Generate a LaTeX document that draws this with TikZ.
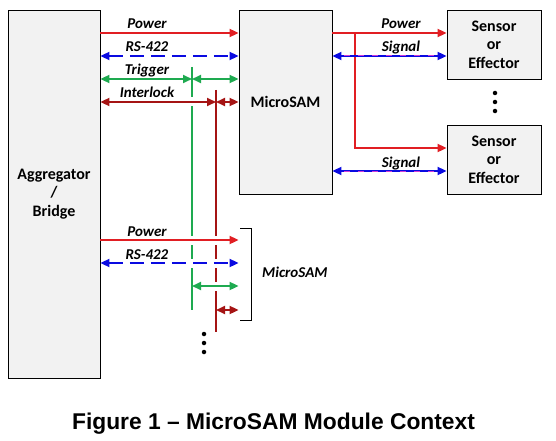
\documentclass[tikz,border=0pt]{standalone}
\usepackage{fontspec}
\setmainfont{Carlito}
\newfontfamily\capfont{Liberation Sans}
\usetikzlibrary{arrows.meta}
\definecolor{pwr}{RGB}{225,30,35}
\definecolor{rs}{RGB}{10,10,225}
\definecolor{trg}{RGB}{30,170,80}
\definecolor{ilk}{RGB}{165,20,20}
\definecolor{sig}{RGB}{205,60,215}
\definecolor{boxfill}{RGB}{242,242,242}
\begin{document}
\begin{tikzpicture}[x=1pt,y=-1pt,
  box/.style={draw=black, line width=0.9pt, fill=boxfill, align=center, inner sep=0pt,
    font=\fontsize{16}{18.5}\selectfont\bfseries},
  lbl/.style={font=\fontsize{15}{18}\selectfont\bfseries\itshape, inner sep=0pt, anchor=base},
  tipA/.style={-{Triangle[length=9pt,width=8pt]}},
  tipB/.style={{Triangle[length=9pt,width=8pt]}-{Triangle[length=9pt,width=8pt]}},
  ln/.style={line width=2pt},
  gap/.style={draw=white, line width=9pt},
  dot/.style={fill=black, draw=none, circle, inner sep=0pt, minimum size=4.5pt}]
\useasboundingbox (0,0) rectangle (556,441);
\fill[white] (0,0) rectangle (556,441);

% boxes
\node[box, minimum width=92, minimum height=368] (agg) at (54,194) {Aggregator\\/\\Bridge};
\node[box, minimum width=93, minimum height=184] (micro) at (285.5,102) {MicroSAM};
\node[box, minimum width=94, minimum height=69] (s1) at (494,44.5) {Sensor\\or\\Effector};
\node[box, minimum width=94, minimum height=69] (s2) at (494,159.5) {Sensor\\or\\Effector};

% helper coordinates
\coordinate (yP) at (0,33);
\coordinate (yR) at (0,56);
\coordinate (tj) at (192,79);
\coordinate (ij) at (216,102);
\coordinate (gtop) at (192,67);
\coordinate (gbot) at (192,310);
\coordinate (itop) at (216,90);
\coordinate (ibot) at (216,332);
\coordinate (yP2) at (0,240);
\coordinate (yR2) at (0,263);
\coordinate (ga) at (192,286);
\coordinate (ia) at (216,310);
\coordinate (br) at (355,33);
\coordinate (bc) at (355,148);
\coordinate (yS2) at (0,171);

% vertical buses
\draw[ln, trg] (gtop) -- (gbot);
\draw[ln, ilk] (itop) -- (ibot);

% top-left connections
\draw[ln, pwr, tipA] (agg.east |- yP) -- (micro.west |- yP);
\draw[ln, rs, tipB, dash pattern=on 14pt off 7pt] (agg.east |- yR) -- (micro.west |- yR);
\draw[ln, trg, tipB] (agg.east |- tj) -- (tj);
\draw[ln, trg, tipB] (tj) -- (micro.west |- tj);
\draw[gap] (184,102) -- (200,102);
\draw[ln, ilk, tipB] (agg.east |- ij) -- (ij);
\draw[ln, ilk, tipB] (ij) -- (micro.west |- ij);

% bottom-left connections
\draw[gap] (186,240) -- (222,240);
\draw[ln, pwr, tipA] (agg.east |- yP2) -- (micro.west |- yP2);
\draw[gap] (186,263) -- (222,263);
\draw[ln, rs, tipB, dash pattern=on 14pt off 7pt] (agg.east |- yR2) -- (micro.west |- yR2);
\draw[gap] (210,286) -- (222,286);
\draw[ln, trg, tipB] (ga) -- (micro.west |- ga);
\draw[ln, ilk, tipB] (ia) -- (micro.west |- ia);

% right side
\draw[ln, pwr, tipA] (micro.east |- yP) -- (s1.west |- yP);
\draw[ln, pwr, tipA] (br) -- (bc) -- (s2.west |- bc);
\draw[ln, rs, tipB] (micro.east |- yR) -- (s1.west |- yR);
\draw[line width=1pt, sig, dash pattern=on 6pt off 8pt] ([xshift=12pt]micro.east |- yR) -- ([xshift=-12pt]s1.west |- yR);
\draw[ln, rs, tipB] (micro.east |- yS2) -- (s2.west |- yS2);
\draw[line width=1pt, sig, dash pattern=on 6pt off 8pt] ([xshift=12pt]micro.east |- yS2) -- ([xshift=-12pt]s2.west |- yS2);

% labels
\node[lbl] (lp) at (147,29) {Power};
\node[lbl] (lr) at (147,52) {RS-422};
\node[lbl] (lt) at (147,75) {Trigger};
\node[lbl] (li) at (147,98) {Interlock};
\node[lbl] (lp2) at (147,236) {Power};
\node[lbl] (lr2) at (147,259) {RS-422};
\node[lbl] (rp) at (401,29) {Power};
\node[lbl] (rs1) at (401,52) {Signal};
\node[lbl] (rs2) at (401,167) {Signal};

% bracket for second MicroSAM
\coordinate (bt) at (240,228);
\coordinate (bb) at (240,320);
\draw[line width=1pt] (bt) -- ++(11,0) |- (bb);
\node[font=\fontsize{15}{18}\selectfont\bfseries\itshape, anchor=west, inner sep=0pt] (m2) at (262,272) {MicroSAM};

% ellipsis dots
\node[dot] (d1) at (495,93) {};
\node[dot] (d2) at (495,102) {};
\node[dot] (d3) at (495,111) {};
\node[dot] (e1) at (204,334) {};
\node[dot] (e2) at (204,343) {};
\node[dot] (e3) at (204,352) {};

% caption
\node[font=\capfont\fontsize{22.8}{26}\selectfont\bfseries, anchor=base] (cap) at (273.5,429) {Figure 1 – MicroSAM Module Context};
\end{tikzpicture}
\end{document}
